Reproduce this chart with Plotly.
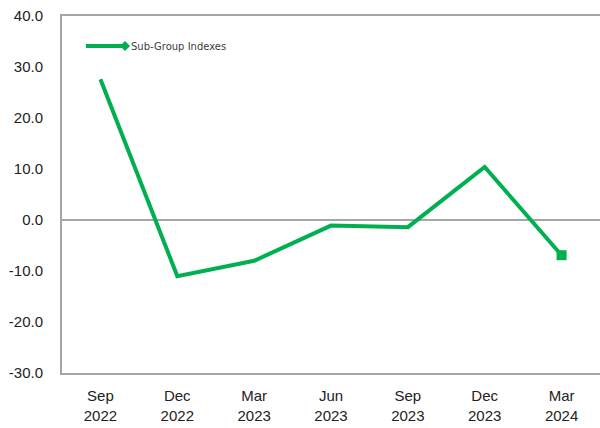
import plotly.graph_objects as go

categories = ["Sep<br>2022", "Dec<br>2022", "Mar<br>2023", "Jun<br>2023",
              "Sep<br>2023", "Dec<br>2023", "Mar<br>2024"]
values = [27.6, -11.0, -8.0, -1.1, -1.4, 10.4, -6.9]
series_name = "Sub-Group Indexes"
y_ticks = [40, 30, 20, 10, 0, -10, -20, -30]
y_tick_labels = ["40.0", "30.0", "20.0", "10.0", "0.0", "-10.0", "-20.0", "-30.0"]

GREEN = "#00B050"
GREY = "#A6A6A6"
FONT = "Liberation Sans"

marker_sizes = [0] * (len(values) - 1) + [10]

fig = go.Figure()
fig.add_trace(go.Scatter(
    x=categories, y=values, mode="lines+markers", name=series_name,
    line=dict(color=GREEN, width=4),
    marker=dict(symbol="square", size=marker_sizes, color=GREEN, opacity=1,
                line=dict(width=0)),
    showlegend=False, cliponaxis=False, hoverinfo="skip",
))

# manual legend
W, H = 538, 357
cx, cy = (125 - 62) / W, (373 - 46) / H
fig.add_shape(type="line", xref="paper", yref="paper",
              x0=(86 - 62) / W, x1=cx, y0=cy, y1=cy,
              line=dict(color=GREEN, width=4))
dx, dy = 5 / W, 5 / H
fig.add_shape(type="path", xref="paper", yref="paper",
              path=f"M {cx-dx} {cy} L {cx} {cy+dy} L {cx+dx} {cy} L {cx} {cy-dy} Z",
              fillcolor=GREEN, line=dict(color=GREEN, width=0))
fig.add_annotation(xref="paper", yref="paper", x=(129 - 62) / W, y=cy,
                   xanchor="left", yanchor="middle", showarrow=False,
                   text=series_name, font=dict(family="DejaVu Sans", size=10, color="#404040"))

fig.update_layout(
    width=600, height=428,
    margin=dict(l=62, r=0, t=16, b=55, autoexpand=False),
    paper_bgcolor="white", plot_bgcolor="white",
    font=dict(family=FONT, size=14, color="#222222"),
    xaxis=dict(
        type="category", range=[-0.5, len(categories) - 0.5],
        showline=True, linecolor=GREY, linewidth=2, mirror=True,
        showgrid=False, ticks="", tickfont=dict(size=15), ticklabelstandoff=8,
        automargin=False,
    ),
    yaxis=dict(
        range=[-30, 40], tickvals=y_ticks, ticktext=y_tick_labels,
        showline=True, linecolor=GREY, linewidth=2, showgrid=False,
        zeroline=True, zerolinecolor=GREY, zerolinewidth=1.5,
        ticks="", tickfont=dict(size=15), ticklabelstandoff=14,
        automargin=False,
    ),
)

fig.write_html("out.html", config={"displayModeBar": False},
               post_script="document.body.style.margin='0';")
